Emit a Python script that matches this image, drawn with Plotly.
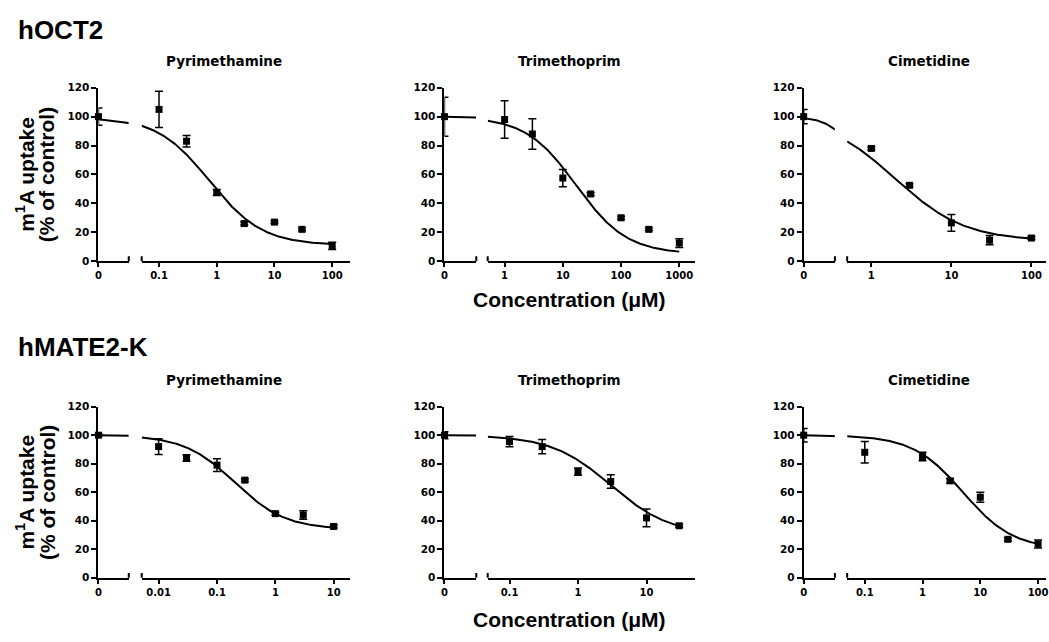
import numpy as np
import plotly.graph_objects as go

# ---------------- data ----------------
row_labels = ["hOCT2", "hMATE2-K"]
drug_names = ["Pyrimethamine", "Trimethoprim", "Cimetidine"]

# hOCT2
oct2_pyr_conc = [0, 0.1, 0.3, 1, 3, 10, 30, 100]
oct2_pyr_mean = [100, 105, 83, 47.5, 26, 27, 22, 10.5]
oct2_pyr_err = [6, 12.5, 4, 2, 1, 1, 1, 2.5]

oct2_tmp_conc = [0, 1, 3, 10, 30, 100, 300, 1000]
oct2_tmp_mean = [100, 98, 88, 57.5, 46.5, 30, 22, 12.5]
oct2_tmp_err = [13.5, 13, 10.5, 6, 1, 1, 1, 3]

oct2_cim_conc = [0, 1, 3, 10, 30, 100]
oct2_cim_mean = [100, 78, 52.5, 26.5, 14.5, 16]
oct2_cim_err = [5, 1, 1, 5.8, 3.2, 1]

# hMATE2-K
mate_pyr_conc = [0, 0.01, 0.03, 0.1, 0.3, 1, 3, 10]
mate_pyr_mean = [100, 92, 84, 79, 68.5, 45, 44, 36]
mate_pyr_err = [1, 5.5, 2.2, 4.5, 1, 1, 3, 1]

mate_tmp_conc = [0, 0.1, 0.3, 1, 3, 10, 30]
mate_tmp_mean = [100, 95.5, 92, 74.5, 67.5, 42, 36.5]
mate_tmp_err = [2.5, 3.6, 5, 2.5, 4.7, 6.2, 1]

mate_cim_conc = [0, 0.1, 1, 3, 10, 30, 100]
mate_cim_mean = [100, 88, 85, 68, 56.5, 27, 23.7]
mate_cim_err = [4.7, 7.5, 3, 1.5, 3.5, 1, 2.8]

# fitted sigmoid parameters: top, bottom, IC50 (uM), Hill slope
oct2_pyr_fit = [100, 11, 0.75, 0.95]
oct2_tmp_fit = [100, 5, 17, 1.0]
oct2_cim_fit = [100, 14, 2.0, 1.0]
mate_pyr_fit = [100, 34, 0.2, 1.0]
mate_tmp_fit = [100, 30, 3.0, 1.0]
mate_cim_fit = [100, 20, 5.0, 1.0]

# tick labels
y_ticks = [0, 20, 40, 60, 80, 100, 120]
oct2_pyr_xticks = [0.1, 1, 10, 100]
oct2_tmp_xticks = [1, 10, 100, 1000]
oct2_cim_xticks = [1, 10, 100]
mate_pyr_xticks = [0.01, 0.1, 1, 10]
mate_tmp_xticks = [0.1, 1, 10]
mate_cim_xticks = [0.1, 1, 10, 100]

panels_data = [
    (oct2_pyr_conc, oct2_pyr_mean, oct2_pyr_err, oct2_pyr_fit, oct2_pyr_xticks),
    (oct2_tmp_conc, oct2_tmp_mean, oct2_tmp_err, oct2_tmp_fit, oct2_tmp_xticks),
    (oct2_cim_conc, oct2_cim_mean, oct2_cim_err, oct2_cim_fit, oct2_cim_xticks),
    (mate_pyr_conc, mate_pyr_mean, mate_pyr_err, mate_pyr_fit, mate_pyr_xticks),
    (mate_tmp_conc, mate_tmp_mean, mate_tmp_err, mate_tmp_fit, mate_tmp_xticks),
    (mate_cim_conc, mate_cim_mean, mate_cim_err, mate_cim_fit, mate_cim_xticks),
]

# ---------------- layout geometry (pixels) ----------------
W, H = 1049, 642
# per column: left segment [x0,x1], right segment [x0,x1]
col_px = [
    [(96, 126.5), (139.5, 348.5)],
    [(444, 476), (487.5, 696)],
    [(805.3, 836.7), (849, 1049)],
]
# per row: y pixel of value 0 and value 120
row_px = [(260, 83.3), (582.7, 408.3)]
# right-segment log10 ranges per panel
right_ranges = [[-1.3, 2.3], [-0.29, 3.27], [-0.302, 2.182],
                [-2.29, 1.27], [-1.318, 1.708], [-1.305, 2.137]]
# left ("0") segment concentration span per panel
left_spans = [(0.0128, 0.035), (0.01, 0.1), (0.024, 0.234),
              (1e-4, 1e-3), (1e-3, 1e-2), (0.005, 0.05)]
title_x_px = [222, 570, 931]
title_y_px = [56.5, 381.5]
heading_y_px = [24, 347]
xtitle_y_px = [299, 625]


def px(x):
    return x / W


def py(y):
    return 1 - y / H


def hill(x, top, bottom, ic50, n):
    x = np.asarray(x, dtype=float)
    return bottom + (top - bottom) / (1 + (x / ic50) ** n)


def fmt(v):
    return ("%g" % v)


fig = go.Figure()
layout = dict(
    width=W, height=H,
    margin=dict(l=0, r=0, t=0, b=0),
    paper_bgcolor="white", plot_bgcolor="white",
    showlegend=False,
)
shapes = []
annotations = []

tick_font = dict(family="DejaVu Sans", size=10, color="black", weight="bold")

for i, (conc, mean, err, fit, xt) in enumerate(panels_data):
    r, c = divmod(i, 3)
    xl_id = 2 * i + 1
    xr_id = 2 * i + 2
    y_id = i + 1
    xl = "x" if xl_id == 1 else "x%d" % xl_id
    xr = "x%d" % xr_id
    yy = "y" if y_id == 1 else "y%d" % y_id
    xl_key = "xaxis" if xl_id == 1 else "xaxis%d" % xl_id
    xr_key = "xaxis%d" % xr_id
    y_key = "yaxis" if y_id == 1 else "yaxis%d" % y_id

    (lx0, lx1), (rx0, rx1) = col_px[c]
    y0p, y120p = row_px[r]
    c0, c1 = left_spans[i]
    rr = right_ranges[i]
    top, bottom, ic50, n = fit

    common_x = dict(type="log", showgrid=False, zeroline=False, showline=True,
                    linecolor="black", linewidth=2, ticks="outside", ticklen=4,
                    tickwidth=2, tickcolor="black", tickfont=tick_font,
                    ticklabeloverflow="allow",
                    anchor=yy, fixedrange=True)
    layout[xl_key] = dict(common_x, domain=[px(lx0), px(lx1)],
                          range=[np.log10(c0), np.log10(c1)],
                          tickmode="array", tickvals=[c0], ticktext=["0"])
    layout[xr_key] = dict(common_x, domain=[px(rx0), px(rx1)], range=rr,
                          tickmode="array", tickvals=xt,
                          ticktext=[fmt(v) for v in xt])
    layout[y_key] = dict(domain=[py(y0p), py(y120p)], range=[0, 120],
                         anchor=xl, showgrid=False, zeroline=False,
                         showline=True, linecolor="black", linewidth=2,
                         ticks="outside", ticklen=5, tickwidth=2,
                         tickcolor="black", tickmode="array", tickvals=y_ticks,
                         ticktext=[str(v) for v in y_ticks],
                         ticklabeloverflow="allow",
                         tickfont=dict(tick_font, size=10.5), fixedrange=True)

    # curves
    xs_l = np.logspace(np.log10(c0), np.log10(c1), 60)
    fig.add_trace(go.Scatter(x=xs_l, y=hill(xs_l, top, bottom, ic50, n),
                             mode="lines", line=dict(color="black", width=2),
                             xaxis=xl, yaxis=yy, hoverinfo="skip"))
    xmax = max(conc)
    xs_r = np.logspace(rr[0], np.log10(xmax), 300)
    fig.add_trace(go.Scatter(x=xs_r, y=hill(xs_r, top, bottom, ic50, n),
                             mode="lines", line=dict(color="black", width=2),
                             xaxis=xr, yaxis=yy, hoverinfo="skip"))

    # data points: zero on the left segment, the rest on the log segment
    z_idx = [k for k, v in enumerate(conc) if v == 0]
    nz_idx = [k for k, v in enumerate(conc) if v > 0]
    marker = dict(symbol="square", size=7, color="black")
    ebar = dict(type="data", color="black", thickness=1.5, width=4)
    fig.add_trace(go.Scatter(
        x=[c0 for k in z_idx], y=[mean[k] for k in z_idx],
        error_y=dict(ebar, array=[err[k] for k in z_idx]),
        mode="markers", marker=marker, xaxis=xl, yaxis=yy, cliponaxis=False))
    fig.add_trace(go.Scatter(
        x=[conc[k] for k in nz_idx], y=[mean[k] for k in nz_idx],
        error_y=dict(ebar, array=[err[k] for k in nz_idx]),
        mode="markers", marker=marker, xaxis=xr, yaxis=yy, cliponaxis=False))

    # axis-break end bars
    shapes.append(dict(type="line", xref=xl + " domain", yref=yy,
                       x0=1, x1=1, y0=-3.4, y1=3.4,
                       line=dict(color="black", width=2)))
    shapes.append(dict(type="line", xref=xr + " domain", yref=yy,
                       x0=0, x1=0, y0=-3.4, y1=3.4,
                       line=dict(color="black", width=2)))

    # panel title
    annotations.append(dict(text=drug_names[c], x=px(title_x_px[c]),
                            y=py(title_y_px[r]), xref="paper", yref="paper",
                            xanchor="center", yanchor="middle", showarrow=False,
                            font=dict(family="DejaVu Sans", size=13.5,
                                      color="black", weight="bold")))

for r in range(2):
    # row heading
    annotations.append(dict(text=row_labels[r], x=px(13), y=py(heading_y_px[r]),
                            xref="paper", yref="paper", xanchor="left",
                            yanchor="middle", showarrow=False,
                            font=dict(family="Liberation Sans", size=26,
                                      color="black", weight="bold")))
    # y title (two lines)
    y0p, y120p = row_px[r]
    ymid = py((y0p + y120p) / 2)
    for txt, xx in (("m<sup>1</sup>A uptake", 22.5), ("(% of control)", 44)):
        annotations.append(dict(text=txt, x=px(xx), y=ymid, xref="paper",
                                yref="paper", xanchor="center",
                                yanchor="middle", textangle=-90,
                                showarrow=False,
                                font=dict(family="Liberation Sans", size=21,
                                          color="black", weight="bold")))
    # x title
    annotations.append(dict(text="Concentration (\u03bcM)", x=px(570),
                            y=py(xtitle_y_px[r]), xref="paper", yref="paper",
                            xanchor="center", yanchor="middle",
                            showarrow=False,
                            font=dict(family="Liberation Sans", size=21,
                                      color="black", weight="bold")))

layout["shapes"] = shapes
layout["annotations"] = annotations
fig.update_layout(**layout)
fig.write_html("out.html", config={"displayModeBar": False},
               post_script="document.body.style.margin='0px';"
                           "document.body.style.overflow='hidden';")
